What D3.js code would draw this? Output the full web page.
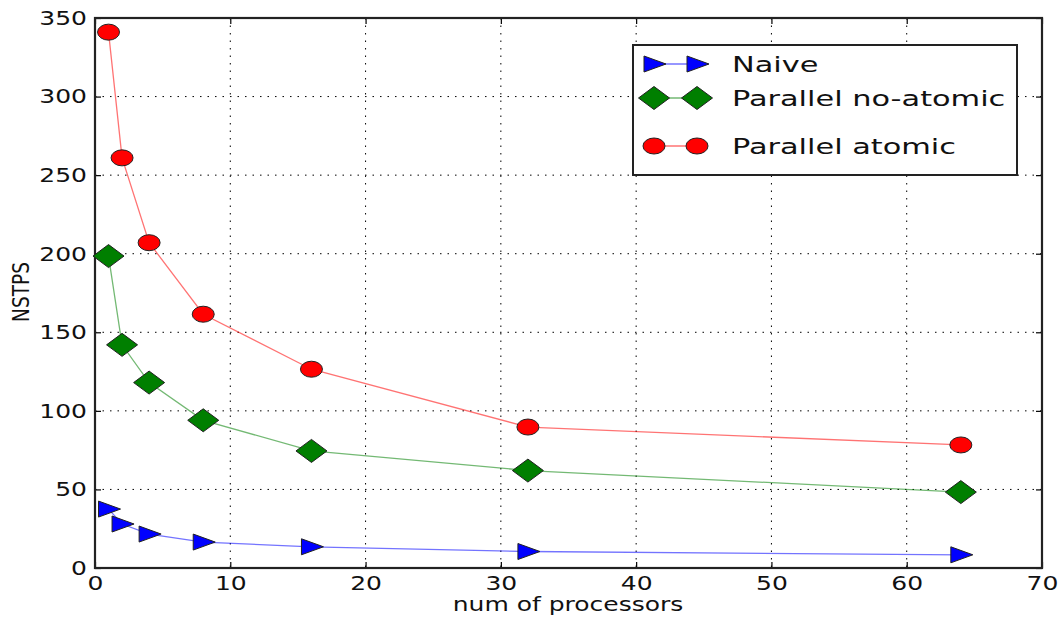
<!DOCTYPE html>
<html>
<head>
<meta charset="utf-8">
<script src="https://cdn.jsdelivr.net/npm/d3@7"></script>
<style>
  body { margin: 0; background: #fff; }
  svg { display: block; font-family: "DejaVu Sans", sans-serif; }
</style>
</head>
<body>
<svg id="chart" width="1064" height="617"></svg>
<script>
// ---- data ----
const procs = [1, 2, 4, 8, 16, 32, 64];
const naive = [37.5, 28, 21.6, 16.5, 13.5, 10.5, 8.4];
const noAtomic = [198.5, 142, 118, 94, 74.5, 62, 48.3];
const atomic = [341, 261, 207, 161.5, 126.5, 89.7, 78.3];
const xTicks = [0, 10, 20, 30, 40, 50, 60, 70];
const yTicks = [0, 50, 100, 150, 200, 250, 300, 350];
const seriesNames = ["Naive", "Parallel no-atomic", "Parallel atomic"];

const svg = d3.select("#chart");
const plotLeft = 95, plotRight = 1042, plotTop = 18, plotBottom = 568;
const stretch = 1.25; // the source picture is wider than it is tall

const x = d3.scaleLinear().domain([0, 70]).range([plotLeft, plotRight]);
const y = d3.scaleLinear().domain([0, 350]).range([plotBottom, plotTop]);

// grid
const grid = svg.append("g").attr("stroke", "#000").attr("stroke-width", 1)
    .attr("stroke-dasharray", "1.5,6");
grid.selectAll(".gx").data(xTicks.slice(1, -1)).enter().append("line")
    .attr("x1", d => x(d)).attr("x2", d => x(d))
    .attr("y1", plotTop).attr("y2", plotBottom);
grid.selectAll(".gy").data(yTicks.slice(1, -1)).enter().append("line")
    .attr("x1", plotLeft).attr("x2", plotRight)
    .attr("y1", d => y(d)).attr("y2", d => y(d));

// axes, ticks pointing inward
const xAxis = svg.append("g").attr("transform", `translate(0,${plotBottom})`)
    .call(d3.axisBottom(x).tickValues(xTicks).tickSizeInner(-6).tickSizeOuter(0).tickPadding(8));
const xAxisTop = svg.append("g").attr("transform", `translate(0,${plotTop})`)
    .call(d3.axisTop(x).tickValues(xTicks).tickSizeInner(-6).tickSizeOuter(0).tickFormat(""));
const yAxis = svg.append("g").attr("transform", `translate(${plotLeft},0)`)
    .call(d3.axisLeft(y).tickValues(yTicks).tickSizeInner(-6).tickSizeOuter(0).tickPadding(6.4));
const yAxisRight = svg.append("g").attr("transform", `translate(${plotRight},0)`)
    .call(d3.axisRight(y).tickValues(yTicks).tickSizeInner(-6).tickSizeOuter(0).tickFormat(""));

[xAxis, xAxisTop, yAxis, yAxisRight].forEach(a => {
    a.select(".domain").remove();
    a.selectAll(".tick line").attr("stroke", "#000").attr("stroke-width", 1.2);
});
[xAxis, yAxis].forEach(a => {
    a.selectAll("text")
        .attr("font-family", "DejaVu Sans")
        .attr("font-size", 20)
        .attr("fill", "#111")
        .attr("transform", `scale(${stretch},1)`);
});

// frame
svg.append("rect")
    .attr("x", plotLeft).attr("y", plotTop)
    .attr("width", plotRight - plotLeft).attr("height", plotBottom - plotTop)
    .attr("fill", "none").attr("stroke", "#222").attr("stroke-width", 2.2);

// axis titles
svg.append("text")
    .attr("transform", `translate(568,611) scale(${stretch},1)`)
    .attr("text-anchor", "middle").attr("font-size", 20).attr("fill", "#111")
    .text("num of processors");
svg.append("text")
    .attr("transform", `translate(29,292) scale(${stretch},1) rotate(-90)`)
    .attr("text-anchor", "middle").attr("font-size", 18.5).attr("fill", "#111")
    .text("NSTPS");

// marker shapes
function marker(g, kind, fill) {
    if (kind === "circle") {
        g.append("ellipse").attr("rx", 11).attr("ry", 8);
    } else if (kind === "diamond") {
        g.append("path").attr("d", "M0,-11.5L15.5,0L0,11.5L-15.5,0Z");
    } else {
        g.append("path").attr("d", "M-10,-8L12,0L-10,8Z");
    }
    g.selectAll("*").attr("fill", fill).attr("stroke", "#222").attr("stroke-width", 1);
}

const series = [
    { name: seriesNames[0], values: naive, color: "#0000ff", kind: "triangle" },
    { name: seriesNames[1], values: noAtomic, color: "#007f00", kind: "diamond" },
    { name: seriesNames[2], values: atomic, color: "#ff0000", kind: "circle" }
];

const line = d3.line()
    .x((d, i) => x(procs[i]))
    .y(d => y(d));

series.forEach(s => {
    svg.append("path")
        .datum(s.values)
        .attr("d", line)
        .attr("fill", "none")
        .attr("stroke", s.color)
        .attr("stroke-opacity", 0.55)
        .attr("stroke-width", 1.3);
    s.values.forEach((v, i) => {
        const g = svg.append("g").attr("transform", `translate(${x(procs[i])},${y(v)})`);
        marker(g, s.kind, s.color);
    });
});

// legend
const legend = svg.append("g");
legend.append("rect")
    .attr("x", 633).attr("y", 45).attr("width", 384).attr("height", 130)
    .attr("fill", "#fff").attr("stroke", "#222").attr("stroke-width", 2);
const rowY = [64, 98, 146];
series.forEach((s, i) => {
    legend.append("line")
        .attr("x1", 654).attr("x2", 697)
        .attr("y1", rowY[i]).attr("y2", rowY[i])
        .attr("stroke", s.color).attr("stroke-opacity", 0.55).attr("stroke-width", 1.3);
    [654, 697].forEach(mx => {
        marker(legend.append("g").attr("transform", `translate(${mx},${rowY[i]})`), s.kind, s.color);
    });
    legend.append("text")
        .attr("transform", `translate(732,${rowY[i] + 8}) scale(1.38,1)`)
        .attr("font-size", 22).attr("fill", "#111")
        .text(s.name);
});
</script>
</body>
</html>
